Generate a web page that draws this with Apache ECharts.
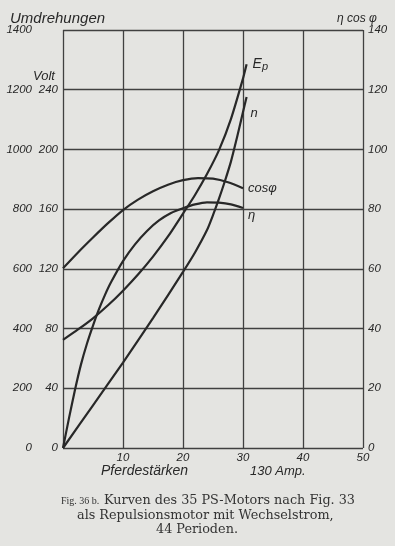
<!DOCTYPE html>
<html>
<head>
<meta charset="utf-8">
<script src="https://cdn.jsdelivr.net/npm/echarts@6/dist/echarts.min.js"></script>
<style>
html,body{margin:0;padding:0;background:#e4e4e1;}
#c{width:395px;height:546px;}
</style>
</head>
<body>
<div id="c"></div>
<script>
// Horizontal axis: Pferdestärken (PS)
const xTicks = [0, 10, 20, 30, 40, 50];
// Right axis (η, cos φ in %)
const rightTicks = [0, 20, 40, 60, 80, 100, 120, 140];
// Left axes
const rpmTicks = [0, 200, 400, 600, 800, 1000, 1200, 1400];
const voltTicks = [0, 40, 80, 120, 160, 200, 240];

// Ep (Volt)
const epX = [0, 2.5, 5, 7.5, 10, 12.5, 15, 17.5, 20, 22, 24, 26, 28, 30, 30.6];
const epV = [72.4, 79.4, 86.9, 95.6, 105.4, 116.2, 128.2, 141.7, 157, 169.5, 183.5, 199.5, 220.5, 247.5, 257];

// n (Umdrehungen)
const nX = [0, 5, 10, 15, 20, 22, 24, 25, 26, 27, 28, 29, 30, 30.6];
const nV = [0, 143, 286, 435, 590, 655, 730, 780, 835, 895, 960, 1040, 1125, 1176];

// cos φ (%)
const cosX = [0, 2.5, 5, 7.5, 10, 12.5, 15, 17.5, 20, 22.5, 25, 27.5, 30];
const cosV = [60.2, 65.5, 70.5, 75.3, 79.7, 83.2, 86, 88.2, 89.7, 90.4, 90.2, 89, 87];

// η (%)
const etaX = [0, 1, 2, 3, 4, 5, 6, 7, 8, 10, 12, 14, 16, 18, 20, 22, 24, 26, 28, 30];
const etaV = [0, 10, 19.5, 28, 35, 41, 46.5, 51.3, 55.5, 62.6, 68.2, 72.7, 76.2, 78.7, 80.3, 81.6, 82.3, 82.2, 81.6, 80.4];

const pairs = (xs, ys) => xs.map((x, i) => [x, ys[i]]);

const INK = '#282828';
const GRID = '#404040';
const HAND = 'Liberation Sans';

const chart = echarts.init(document.getElementById('c'), null, {renderer: 'canvas'});

const lineSeries = (name, data, yIdx, label, offset) => ({
  name, type: 'line', yAxisIndex: yIdx, data, smooth: 0.25, symbol: 'none',
  lineStyle: {color: INK, width: 2.2},
  endLabel: {show: true, formatter: label, offset, color: INK,
    fontFamily: HAND, fontStyle: 'italic', fontSize: 13,
    rich: {e: {fontFamily: HAND, fontStyle: 'italic', fontSize: 14, color: INK},
           p: {fontFamily: HAND, fontStyle: 'italic', fontSize: 11, color: INK, padding: [5, 0, 0, 0]}}},
  emphasis: {disabled: true}, silent: true, animation: false
});

chart.setOption({
  backgroundColor: '#e4e4e1',
  animation: false,
  grid: {left: 63, right: 32, top: 30, bottom: 98},
  xAxis: {
    type: 'value', min: xTicks[0], max: xTicks[xTicks.length - 1], interval: 10,
    axisLine: {show: false}, axisTick: {show: false},
    splitLine: {show: true, lineStyle: {color: GRID, width: 1.3}},
    axisLabel: {margin: 4, color: INK, fontFamily: HAND, fontStyle: 'italic', fontSize: 11.5,
      formatter: v => (v === 0 ? '' : String(v))}
  },
  yAxis: [
    {
      type: 'value', position: 'right', min: rightTicks[0], max: rightTicks[rightTicks.length - 1], interval: 20,
      axisLine: {show: false}, axisTick: {show: false},
      splitLine: {show: true, lineStyle: {color: GRID, width: 1.3}},
      axisLabel: {margin: 5, color: INK, fontFamily: HAND, fontStyle: 'italic', fontSize: 11.5,
        formatter: v => String(v)}
    },
    {
      type: 'value', position: 'left', min: rpmTicks[0], max: rpmTicks[rpmTicks.length - 1], interval: 200,
      axisLine: {show: false}, axisTick: {show: false}, splitLine: {show: false},
      axisLabel: {margin: 31, color: INK, fontFamily: HAND, fontStyle: 'italic', fontSize: 11.5,
        formatter: v => String(v)}
    },
    {
      type: 'value', position: 'left', min: 0, max: 280, interval: 40,
      axisLine: {show: false}, axisTick: {show: false}, splitLine: {show: false},
      axisLabel: {margin: 5, color: INK, fontFamily: HAND, fontStyle: 'italic', fontSize: 11.5,
        formatter: v => (voltTicks.indexOf(v) >= 0 ? String(v) : '')}
    }
  ],
  series: [
    lineSeries('Ep', pairs(epX, epV), 2, '{e|E}{p|p}', [-2, 0]),
    lineSeries('n', pairs(nX, nV), 1, 'n', [-4, 17]),
    lineSeries('cosφ', pairs(cosX, cosV), 0, 'cosφ', [-3, 0]),
    lineSeries('η', pairs(etaX, etaV), 0, 'η', [-3, 7])
  ],
  graphic: [
    {type: 'text', left: 10, top: 11, style: {text: 'Umdrehungen', fill: INK, font: 'italic 15px "Liberation Sans"'}},
    {type: 'text', left: 33, top: 70, style: {text: 'Volt', fill: INK, font: 'italic 13px "Liberation Sans"'}},
    {type: 'text', left: 337, top: 13, style: {text: 'η cos φ', fill: INK, font: 'italic 12px "Liberation Sans"'}},
    {type: 'text', left: 101, top: 464, style: {text: 'Pferdestärken', fill: INK, font: 'italic 14px "Liberation Sans"'}},
    {type: 'text', left: 250, top: 465, style: {text: '130 Amp.', fill: INK, font: 'italic 13px "Liberation Sans"'}},
    {type: 'text', left: 61, top: 496, style: {text: 'Fig. 36 b.', fill: '#333', font: '10px "Liberation Serif"'}},
    {type: 'text', left: 104, top: 494, style: {text: 'Kurven des 35 PS-Motors nach Fig. 33', fill: '#333', font: '12.8px "DejaVu Serif"'}},
    {type: 'text', left: 77, top: 509, style: {text: 'als Repulsionsmotor mit Wechselstrom,', fill: '#333', font: '12.8px "DejaVu Serif"'}},
    {type: 'text', left: 156, top: 523, style: {text: '44 Perioden.', fill: '#333', font: '12.8px "DejaVu Serif"'}}
  ]
});
</script>
</body>
</html>
